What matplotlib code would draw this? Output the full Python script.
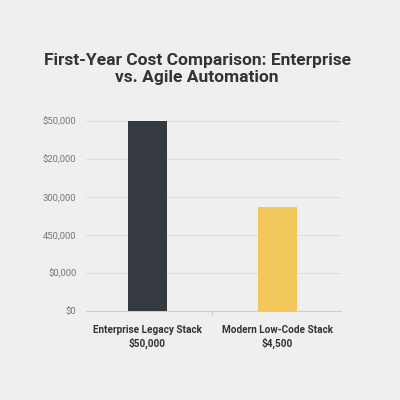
import matplotlib
matplotlib.use("Agg")
import matplotlib.pyplot as plt

categories = ["Enterprise Legacy Stack", "Modern Low-Code Stack"]
cost_labels = ["$50,000", "$4,500"]
bar_heights = [50000, 27250]  # heights as drawn in the picture
bar_colors = ["#343a40", "#f2c75c"]
tick_values = [0, 10000, 20000, 30000, 40000, 50000]
tick_labels = ["$0", "$0,000", "450,000", "300,000", "$20,000", "$50,000"]
title = "First-Year Cost Comparison: Enterprise\nvs. Agile Automation"

plt.rcParams["font.family"] = ["Roboto", "DejaVu Sans"]
bg = "#efefef"
fig = plt.figure(figsize=(4, 4), dpi=100, facecolor=bg)
ax = fig.add_axes([0.215, 0.2225, 0.6375, 0.4758], facecolor=bg)

x = list(range(len(categories)))
ax.bar(x, bar_heights, width=0.3, color=bar_colors, zorder=3)
ax.set_xlim(-0.473, 1.489)
ax.set_ylim(0, 50000)
ax.set_yticks(tick_values)
ax.set_yticklabels(tick_labels, color="#777777", fontsize=6.8)
ax.tick_params(axis="y", length=0, pad=7)
ax.set_xticks([0.5])
ax.set_xticklabels([""])
ax.tick_params(axis="x", length=3, color="#cccccc", width=0.8)
ax.grid(axis="y", color="#dedede", linewidth=0.8, zorder=0)
for s in ["top", "right", "left"]:
    ax.spines[s].set_visible(False)
ax.spines["bottom"].set_color("#cccccc")
ax.spines["bottom"].set_linewidth(0.8)

for xi, cat, cl in zip(x, categories, cost_labels):
    ax.annotate(f"{cat}\n{cl}", xy=(xi, 0), xycoords=("data", "axes fraction"),
                xytext=(0, -10), textcoords="offset points", ha="center", va="top",
                fontsize=7.2, fontweight="bold", color="#333333", linespacing=1.3)

fig.text(0.4925, 0.8275, title, ha="center", va="center", fontsize=12.5,
         fontweight="bold", color="#333333", linespacing=1.2)

fig.savefig("out.png", dpi=100, facecolor=bg)
